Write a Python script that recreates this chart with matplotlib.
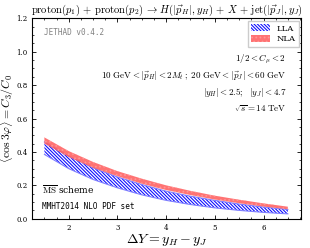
import numpy as np
import matplotlib.pyplot as plt
from matplotlib.ticker import MultipleLocator

plt.rcParams['mathtext.fontset'] = 'cm'
plt.rcParams['font.family'] = 'serif'
plt.rcParams['font.serif'] = ['DejaVu Serif']
plt.rcParams['hatch.linewidth'] = 0.8

# Delta Y values and band edges
dy = [1.5, 2.0, 2.5, 3.0, 3.5, 4.0, 4.5, 5.0, 5.5, 6.0, 6.5]
lla_low = [0.385, 0.30, 0.235, 0.185, 0.143, 0.11, 0.085, 0.065, 0.05, 0.038, 0.029]
lla_high = [0.46, 0.375, 0.305, 0.25, 0.205, 0.165, 0.135, 0.11, 0.088, 0.07, 0.056]
nla_low = [0.45, 0.37, 0.305, 0.255, 0.21, 0.172, 0.142, 0.115, 0.093, 0.073, 0.057]
nla_high = [0.487, 0.405, 0.34, 0.285, 0.24, 0.20, 0.167, 0.138, 0.114, 0.092, 0.072]

fig = plt.figure(figsize=(3.1, 2.48), dpi=100)
ax = fig.add_axes([0.104, 0.118, 0.867, 0.808])

ax.fill_between(dy, lla_low, lla_high, facecolor='white', edgecolor='#1010ff',
                hatch='\\' * 10, linewidth=0.0, label='LLA', zorder=2)
ax.plot(dy, lla_low, color='#8080ff', lw=0.8, zorder=3)
ax.plot(dy, lla_high, color='#8080ff', lw=0.8, zorder=3)
ax.fill_between(dy, nla_low, nla_high, facecolor='#ff5a5a', edgecolor='#ff9a9a',
                hatch='....', linewidth=0.0, alpha=0.85, label='NLA', zorder=4)

ax.set_xlim(1.25, 6.77)
ax.set_ylim(0, 1.2)
ax.xaxis.set_major_locator(MultipleLocator(1))
ax.xaxis.set_minor_locator(MultipleLocator(0.25))
ax.yaxis.set_major_locator(MultipleLocator(0.2))
ax.yaxis.set_minor_locator(MultipleLocator(0.05))
ax.tick_params(which='both', direction='in', top=True, right=True, labelsize=5)
ax.tick_params(which='major', length=3, width=0.6)
ax.tick_params(which='minor', length=1.5, width=0.5)
for s in ax.spines.values():
    s.set_linewidth(0.8)

ax.set_title(r"$\mathrm{proton}(p_1)\,+\,\mathrm{proton}(p_2)\,\to\,H(|\vec{p}_H|, y_H)\,+\,X\,+\,\mathrm{jet}(|\vec{p}_J|, y_J)$",
             fontsize=7.6, pad=2)
ax.set_xlabel(r"$\Delta Y = y_H - y_J$", fontsize=10, labelpad=0)
ax.set_ylabel(r"$\langle \cos 3\varphi \rangle = C_3/C_0$", fontsize=8.5)
ax.yaxis.set_label_coords(-0.06, 0.5)

ax.text(0.045, 0.93, "JETHAD v0.4.2", transform=ax.transAxes, fontsize=5.5,
        family='DejaVu Sans Mono', color='gray', va='center')
ax.text(0.945, 0.795, r"$1/2 < C_\mu < 2$", transform=ax.transAxes, fontsize=6.5, ha='right', va='center')
ax.text(0.945, 0.715, r"$10\ \mathrm{GeV} < |\vec{p}_H| < 2M_t\,;\ 20\ \mathrm{GeV} < |\vec{p}_J| < 60\ \mathrm{GeV}$",
        transform=ax.transAxes, fontsize=6.5, ha='right', va='center')
ax.text(0.945, 0.63, r"$|y_H| < 2.5;\ \ |y_J| < 4.7$", transform=ax.transAxes, fontsize=6.5, ha='right', va='center')
ax.text(0.945, 0.55, r"$\sqrt{s} = 14\ \mathrm{TeV}$", transform=ax.transAxes, fontsize=6.5, ha='right', va='center')
ax.text(0.035, 0.145, r"$\overline{\rm MS}$ scheme", transform=ax.transAxes, fontsize=6.5, va='center')
ax.text(0.035, 0.06, "MMHT2014 NLO PDF set", transform=ax.transAxes, fontsize=5.5,
        family='DejaVu Sans Mono', va='center')

ax.legend(loc='upper right', fontsize=6, handlelength=2.2, handleheight=0.9,
          borderpad=0.4, labelspacing=0.3, frameon=True, fancybox=False,
          framealpha=1, edgecolor='#cccccc', borderaxespad=0.3)

plt.savefig('out.png', dpi=100)
